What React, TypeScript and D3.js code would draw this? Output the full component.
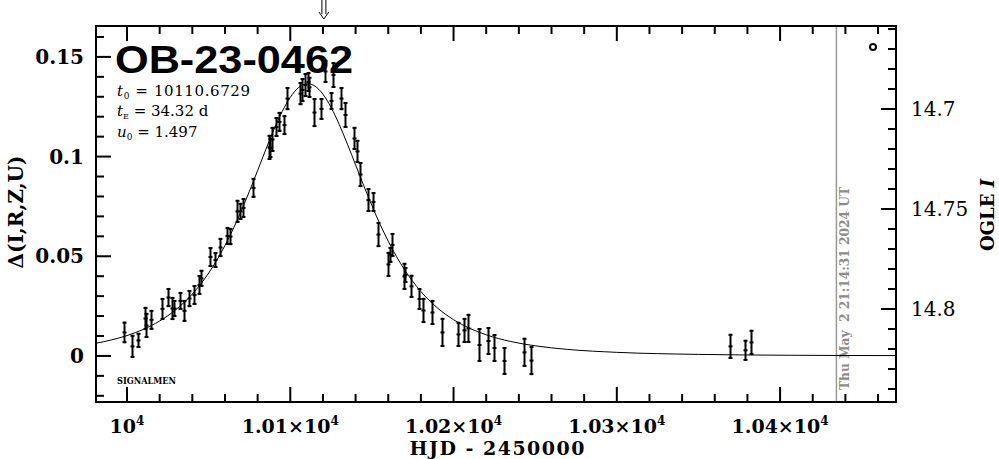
import React from 'react';
import * as d3 from 'd3';

// ---- data ----
const hjd = [9997.9, 10003.1, 10006.5, 10010.8, 10011.8, 10014.7, 10021.4, 10024.9, 10027.6, 10029.0, 10032.6, 10034.7, 10037.7, 10040.8, 10043.8, 10045.5, 10051.0, 10054.1, 10057.1, 10061.2, 10063.3, 10067.5, 10069.4, 10071.2, 10076.9, 10086.7, 10087.8, 10088.8, 10091.2, 10093.3, 10095.9, 10098.0, 10106.1, 10107.2, 10109.2, 10110.8, 10111.6, 10114.3, 10119.0, 10121.4, 10124.9, 10125.9, 10131.2, 10133.7, 10138.8, 10140.8, 10142.4, 10147.9, 10150.6, 10153.7, 10159.8, 10160.8, 10162.6, 10169.4, 10170.4, 10174.1, 10179.0, 10181.0, 10187.0, 10192.9, 10202.7, 10206.7, 10208.8, 10215.7, 10220.8, 10224.9, 10230.6, 10242.9, 10247.6, 10369.6, 10378.8, 10382.3];
const delta = [0.0118, 0.0048, 0.0078, 0.0188, 0.0153, 0.0181, 0.0236, 0.0293, 0.0238, 0.0238, 0.0276, 0.0226, 0.0288, 0.0306, 0.0356, 0.0389, 0.0496, 0.0481, 0.0544, 0.0602, 0.0599, 0.0725, 0.0725, 0.0742, 0.0843, 0.1046, 0.1043, 0.1086, 0.1148, 0.1174, 0.1158, 0.1291, 0.1316, 0.1334, 0.1359, 0.1374, 0.1347, 0.1221, 0.1239, 0.1427, 0.1279, 0.1409, 0.1291, 0.1209, 0.1091, 0.1026, 0.0910, 0.0782, 0.0772, 0.0609, 0.0459, 0.0507, 0.0557, 0.0399, 0.0406, 0.0349, 0.0286, 0.0228, 0.0218, 0.0118, 0.0108, 0.0128, 0.0138, 0.0055, 0.0075, 0.0040, -0.0025, 0.0018, -0.0023, 0.0048, 0.0028, 0.0068];
const deltaErr = [0.0054, 0.0058, 0.0038, 0.0058, 0.0063, 0.0050, 0.0055, 0.0048, 0.0058, 0.0043, 0.0045, 0.0055, 0.0043, 0.0050, 0.0050, 0.0043, 0.0050, 0.0040, 0.0048, 0.0045, 0.0043, 0.0058, 0.0043, 0.0050, 0.0050, 0.0063, 0.0050, 0.0063, 0.0050, 0.0050, 0.0050, 0.0058, 0.0058, 0.0060, 0.0060, 0.0050, 0.0053, 0.0073, 0.0055, 0.0058, 0.0045, 0.0065, 0.0058, 0.0065, 0.0058, 0.0058, 0.0063, 0.0060, 0.0050, 0.0063, 0.0063, 0.0040, 0.0060, 0.0068, 0.0040, 0.0058, 0.0055, 0.0063, 0.0063, 0.0073, 0.0063, 0.0063, 0.0073, 0.0085, 0.0070, 0.0070, 0.0070, 0.0073, 0.0073, 0.0063, 0.0053, 0.0063];

const modelT = [9981, 9990, 10000, 10010, 10020, 10030, 10040, 10050, 10060, 10065, 10070, 10075, 10080, 10085, 10090, 10095, 10100, 10105, 10110.67, 10115, 10120, 10125, 10130, 10135, 10140, 10145, 10150, 10155, 10160, 10170, 10180, 10190, 10200, 10210, 10220, 10235, 10250, 10270, 10300, 10350, 10400, 10471];
const modelDelta = [0.00638, 0.00794, 0.01023, 0.01332, 0.01753, 0.02326, 0.03105, 0.04157, 0.05540, 0.06367, 0.07282, 0.08268, 0.09302, 0.10350, 0.11354, 0.12253, 0.12972, 0.13458, 0.13655, 0.13540, 0.13130, 0.12468, 0.11607, 0.10625, 0.09584, 0.08542, 0.07539, 0.06604, 0.05754, 0.04322, 0.03231, 0.02417, 0.01819, 0.01382, 0.01059, 0.00725, 0.00508, 0.00327, 0.00181, 0.00078, 0.00038, 0.00017];

const xMajorTicks = [10000, 10100, 10200, 10300, 10400];
const xTickMantissa = ['10', '1.01×10', '1.02×10', '1.03×10', '1.04×10'];
const xTickExponent = ['4', '4', '4', '4', '4'];
const yMajorTicks = [0, 0.05, 0.1, 0.15];
const yTickLabels = ['0', '0.05', '0.1', '0.15'];
const magMajorTicks = [14.7, 14.75, 14.8];
const magTickLabels = ['14.7', '14.75', '14.8'];

const title = 'OB-23-0462';
const paramT0 = '10110.6729';
const paramTE = '34.32 d';
const paramU0 = '1.497';
const arrowT = 10120.6;
const nowT = 10434.5;
const nowLabel = 'Thu May  2 21:14:31 2024 UT';

// ---- layout ----
const W = 999, H = 459;
const L = 96, R = 896, T = 26, B = 402;

export default function App() {
  const x = d3.scaleLinear().domain([9981, 10471]).range([L, R]);
  const y = d3.scaleLinear().domain([-0.0231, 0.1655]).range([B, T]);
  const mag = d3.scaleLinear().domain([14.8465, 14.6585]).range([B, T]);

  const xMinor = d3.range(10000, 10471, 20);
  const yMinor = d3.range(-2, 17).map((v) => v / 100);
  const magMinor = d3.range(1466, 1485).map((v) => v / 100);
  const isMajor = (v: number, list: number[]) => list.some((m) => Math.abs(m - v) < 1e-6);

  const line = d3
    .line<number>()
    .x((_, i) => x(modelT[i]))
    .y((d) => y(d))
    .curve(d3.curveMonotoneX);

  const serif = 'DejaVu Serif';
  const ax = arrowT;

  return (
    <svg width={W} height={H} style={{ position: 'absolute', left: 0, top: 0, background: '#fff' }}>
      <rect x={0} y={0} width={W} height={H} fill="#fff" />
      <defs>
        <clipPath id="plot">
          <rect x={L} y={T} width={R - L} height={B - T} />
        </clipPath>
      </defs>

      {/* now line */}
      <line x1={x(nowT)} x2={x(nowT)} y1={T} y2={B} stroke="#999" strokeWidth={1.5} />
      <text
        transform={`translate(${x(nowT) + 13},${390}) rotate(-90)`}
        fontFamily={serif}
        fontWeight="bold"
        fontSize={12}
        fill="#8c8c8c"
        textLength={203}
        lengthAdjust="spacingAndGlyphs"
        style={{ whiteSpace: 'pre' }}
      >
        {nowLabel}
      </text>

      {/* model curve */}
      <g clipPath="url(#plot)">
        <path d={line(modelDelta) || ''} fill="none" stroke="#000" strokeWidth={1} />
      </g>

      {/* data with error bars */}
      <g stroke="#000" strokeWidth={2}>
        {hjd.map((t, i) => {
          const cx = Math.round(x(t)) + 0.5;
          const y1 = y(delta[i] + deltaErr[i]);
          const y2 = y(delta[i] - deltaErr[i]);
          const yc = y(delta[i]);
          return (
            <g key={i}>
              <line x1={cx} x2={cx} y1={y1} y2={y2} />
              <line x1={cx - 2} x2={cx + 2} y1={y1 + 1} y2={y1 + 1} />
              <line x1={cx - 2} x2={cx + 2} y1={y2 - 1} y2={y2 - 1} />
              <line x1={cx - 2} x2={cx + 2} y1={yc} y2={yc} />
            </g>
          );
        })}
      </g>

      {/* frame */}
      <rect x={L} y={T} width={R - L} height={B - T} fill="none" stroke="#000" strokeWidth={2} />

      {/* ticks */}
      <g stroke="#000" strokeWidth={2}>
        {xMinor.map((v) => {
          const len = isMajor(v, xMajorTicks) ? 15 : 8;
          const px = x(v);
          return (
            <g key={v}>
              <line x1={px} x2={px} y1={B} y2={B - len} />
              <line x1={px} x2={px} y1={T} y2={T + len} />
            </g>
          );
        })}
        {yMinor.map((v) => {
          const len = isMajor(v, yMajorTicks) ? 15 : 8;
          const py = y(v);
          return <line key={v} x1={L} x2={L + len} y1={py} y2={py} />;
        })}
        {magMinor.map((v) => {
          const len = isMajor(v, magMajorTicks) ? 15 : 8;
          const py = mag(v);
          return <line key={v} x1={R} x2={R - len} y1={py} y2={py} />;
        })}
      </g>

      {/* x tick labels */}
      {xMajorTicks.map((v, i) => (
        <text
          key={v}
          x={x(v)}
          y={433}
          textAnchor="middle"
          fontFamily={serif}
          fontWeight="bold"
          fontSize={19}
        >
          {xTickMantissa[i]}
          <tspan fontSize={12} dy={-8}>
            {xTickExponent[i]}
          </tspan>
        </text>
      ))}
      <text
        x={497}
        y={455}
        textAnchor="middle"
        fontFamily={serif}
        fontWeight="bold"
        fontSize={19}
        textLength={175}
        lengthAdjust="spacing"
      >
        HJD - 2450000
      </text>

      {/* y tick labels */}
      {yMajorTicks.map((v, i) => (
        <text
          key={v}
          x={84}
          y={y(v) + 7}
          textAnchor="end"
          fontFamily={serif}
          fontWeight="bold"
          fontSize={20}
        >
          {yTickLabels[i]}
        </text>
      ))}
      <text
        transform={`translate(23,${212}) rotate(-90)`}
        textAnchor="middle"
        fontFamily={serif}
        fontWeight="bold"
        fontSize={20}
      >
        Δ(I,R,Z,U)
      </text>

      {/* right axis labels */}
      {magMajorTicks.map((v, i) => (
        <text key={v} x={911} y={mag(v) + 7} fontFamily={serif} fontSize={20}>
          {magTickLabels[i]}
        </text>
      ))}
      <text
        transform={`translate(994,${215}) rotate(-90)`}
        textAnchor="middle"
        fontFamily={serif}
        fontWeight="bold"
        fontSize={18}
      >
        OGLE <tspan fontStyle="italic">I</tspan>
      </text>

      {/* title and parameters */}
      <text
        x={115}
        y={73}
        fontFamily="Liberation Sans"
        fontWeight="bold"
        fontSize={39}
        textLength={238}
        lengthAdjust="spacingAndGlyphs"
      >
        {title}
      </text>
      <text x={117} y={96} fontFamily={serif} fontSize={15} textLength={133} lengthAdjust="spacing">
        <tspan fontStyle="italic">t</tspan>
        <tspan fontSize={9} dy={3}>0</tspan>
        <tspan dy={-3}>{' = ' + paramT0}</tspan>
      </text>
      <text x={117} y={116} fontFamily={serif} fontSize={15}>
        <tspan fontStyle="italic">t</tspan>
        <tspan fontSize={8} dy={3}>E</tspan>
        <tspan dy={-3}>{'  = ' + paramTE}</tspan>
      </text>
      <text x={117} y={137} fontFamily={serif} fontSize={15}>
        <tspan fontStyle="italic">u</tspan>
        <tspan fontSize={9} dy={3}>0</tspan>
        <tspan dy={-3}>{'  = ' + paramU0}</tspan>
      </text>

      <text x={117} y={384} fontFamily={serif} fontWeight="bold" fontSize={8.5} textLength={59} lengthAdjust="spacingAndGlyphs">
        SIGNALMEN
      </text>

      {/* small circle marker */}
      <circle cx={873} cy={47} r={3} fill="#fff" stroke="#000" strokeWidth={2} />

      {/* arrow at top */}
      <g stroke="#000" strokeWidth={1} fill="none">
        <line x1={x(ax) - 2} x2={x(ax) - 2} y1={0} y2={14} />
        <line x1={x(ax) + 2} x2={x(ax) + 2} y1={0} y2={14} />
        <polyline points={`${x(ax) - 5},12 ${x(ax)},19 ${x(ax) + 5},12`} />
      </g>
    </svg>
  );
}
